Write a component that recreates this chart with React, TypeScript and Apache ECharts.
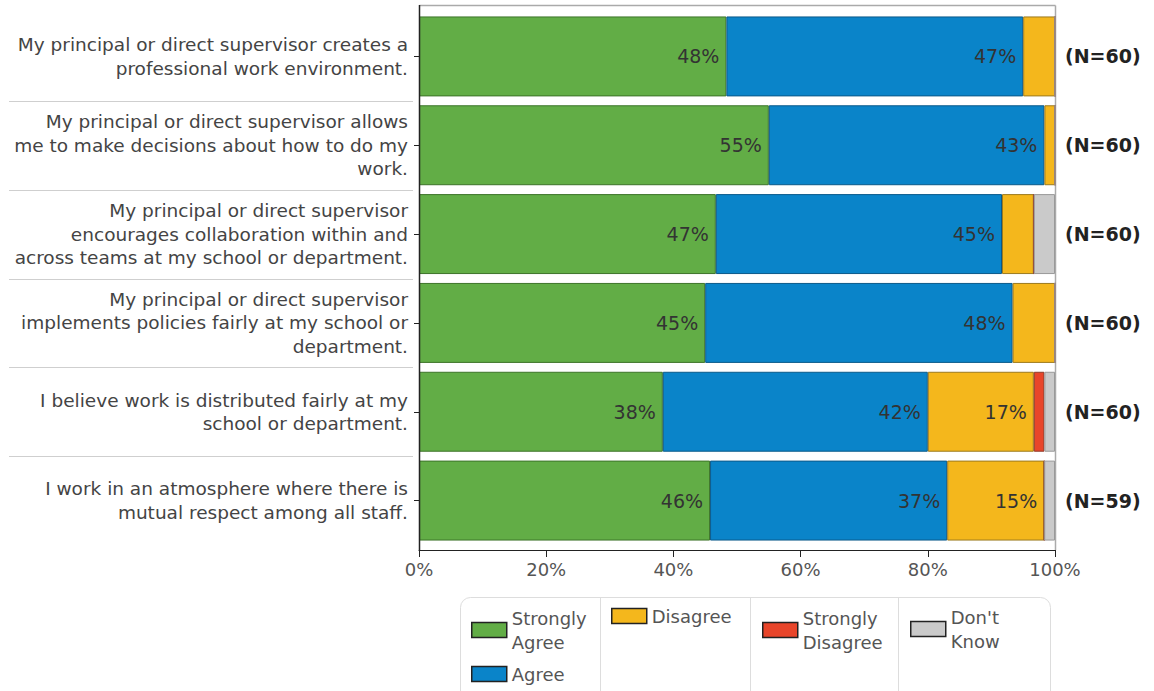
import React, { useEffect, useRef } from "react";
import * as echarts from "echarts";

const categories = [
  "My principal or direct supervisor creates a\nprofessional work environment.",
  "My principal or direct supervisor allows\nme to make decisions about how to do my\nwork.",
  "My principal or direct supervisor\nencourages collaboration within and\nacross teams at my school or department.",
  "My principal or direct supervisor\nimplements policies fairly at my school or\ndepartment.",
  "I believe work is distributed fairly at my\nschool or department.",
  "I work in an atmosphere where there is\nmutual respect among all staff.",
];
const respondents = [60, 60, 60, 60, 60, 59];
const strongAgree = [29, 33, 28, 27, 23, 27];
const agree = [28, 26, 27, 29, 25, 22];
const disagree = [3, 1, 3, 4, 10, 9];
const strongDisagree = [0, 0, 0, 0, 1, 0];
const dontKnow = [0, 0, 2, 0, 1, 1];
const xTicks = [0, 20, 40, 60, 80, 100];

const seriesDefs = [
  { name: "Strongly Agree", counts: strongAgree, color: "#62ad46", border: "#3d7429" },
  { name: "Agree", counts: agree, color: "#0a84c9", border: "#0b5a8a" },
  { name: "Disagree", counts: disagree, color: "#f4b71c", border: "#9c7a1e" },
  { name: "Strongly Disagree", counts: strongDisagree, color: "#e8452a", border: "#8f3a28" },
  { name: "Don't Know", counts: dontKnow, color: "#cacaca", border: "#999999" },
];

const FONT = "DejaVu Sans, Liberation Sans, Arial, sans-serif";

export default function App() {
  const ref = useRef<HTMLDivElement>(null);
  useEffect(() => {
    document.body.style.margin = "0";
    const chart = echarts.init(ref.current!, undefined, { renderer: "svg" });
    const legendText = { color: "#555", fontSize: 18, lineHeight: 24, fontFamily: FONT };
    const legendBase = {
      orient: "vertical",
      icon: "rect",
      itemWidth: 35,
      itemHeight: 15,
      itemGap: 8,
      padding: 0,
      textStyle: legendText,
      itemStyle: { borderColor: "#222", borderWidth: 1.5 },
      selectedMode: false,
    };
    const gridTop = 12;
    const gridHeight = 533;
    const option: any = {
      animation: false,
      textStyle: { fontFamily: FONT },
      grid: { left: 419, right: 99, top: gridTop, height: gridHeight },
      xAxis: {
        type: "value",
        min: xTicks[0],
        max: xTicks[xTicks.length - 1],
        interval: 20,
        offset: 5,
        axisLine: { show: true, lineStyle: { color: "#222", width: 1.2 } },
        axisTick: { show: true, length: 7, lineStyle: { color: "#222" } },
        splitLine: { show: false },
        axisLabel: { formatter: "{value}%", color: "#555", fontSize: 18, margin: 10 },
      },
      yAxis: [
        {
          type: "category",
          inverse: true,
          data: categories,
          axisLine: { show: false },
          axisTick: { show: true, alignWithLabel: true, length: 5, lineStyle: { color: "#222" } },
          axisLabel: { color: "#444", fontSize: 18.5, lineHeight: 23.5, margin: 11, align: "right" },
        },
        {
          type: "category",
          inverse: true,
          position: "right",
          data: respondents.map((n) => `(N=${n})`),
          axisLine: { show: false },
          axisTick: { show: false },
          axisLabel: { color: "#222", fontSize: 19, fontWeight: "bold", margin: 10 },
        },
      ],
      legend: [
        { ...legendBase, data: [{ name: "Strongly Agree" }], left: 471, top: 606, formatter: () => "Strongly\nAgree" },
        { ...legendBase, data: [{ name: "Agree" }], left: 471, top: 662 },
        { ...legendBase, data: [{ name: "Disagree" }], left: 611, top: 604 },
        { ...legendBase, data: [{ name: "Strongly Disagree" }], left: 762, top: 606, formatter: () => "Strongly\nDisagree" },
        { ...legendBase, data: [{ name: "Don't Know" }], left: 910, top: 605, formatter: () => "Don't\nKnow" },
      ],
      series: seriesDefs.map((s) => ({
        name: s.name,
        type: "bar",
        stack: "total",
        barCategoryGap: "10%",
        yAxisIndex: 0,
        itemStyle: { color: s.color, borderColor: s.border, borderWidth: 1 },
        label: {
          show: true,
          position: "insideRight",
          distance: 7,
          color: "#333",
          fontSize: 19,
          formatter: (p: any) => (p.value >= 10 ? `${Math.round(p.value)}%` : ""),
        },
        data: s.counts.map((c, i) => (c / respondents[i]) * 100),
      })),
    };
    chart.setOption(option);

    const xLeft = Math.round(chart.convertToPixel({ xAxisIndex: 0 }, xTicks[0]) as number) + 0.5;
    const xRight = Math.round(chart.convertToPixel({ xAxisIndex: 0 }, xTicks[xTicks.length - 1]) as number) + 0.5;
    const frameTop = gridTop - 7 + 0.5;
    const frameBottom = gridTop + gridHeight + 5;

    const centers = categories.map((_, i) => chart.convertToPixel({ yAxisIndex: 0 }, i) as number);
    const seps: any[] = [];
    for (let i = 0; i < centers.length - 1; i++) {
      const y = Math.round((centers[i] + centers[i + 1]) / 2) + 0.5;
      seps.push({
        type: "line",
        shape: { x1: 9, y1: y, x2: 413, y2: y },
        style: { stroke: "#cfcfcf", lineWidth: 1 },
        silent: true,
      });
    }
    const frame: any[] = [
      { type: "line", shape: { x1: xLeft, y1: frameTop, x2: xRight, y2: frameTop }, style: { stroke: "#aaaaaa", lineWidth: 1.5 }, silent: true },
      { type: "line", shape: { x1: xRight, y1: frameTop, x2: xRight, y2: frameBottom }, style: { stroke: "#aaaaaa", lineWidth: 1.5 }, silent: true },
      { type: "line", shape: { x1: xLeft, y1: frameTop - 0.5, x2: xLeft, y2: frameBottom }, style: { stroke: "#222", lineWidth: 1.5 }, silent: true, z: 10 },
    ];
    const legendBox: any[] = [
      {
        type: "rect",
        shape: { x: 460.5, y: 597.5, width: 590, height: 120, r: 10 },
        style: { fill: "none", stroke: "#dddddd", lineWidth: 1 },
        silent: true,
      },
      ...[600, 750, 898].map((x) => ({
        type: "line",
        shape: { x1: x + 0.5, y1: 598, x2: x + 0.5, y2: 691 },
        style: { stroke: "#dddddd", lineWidth: 1 },
        silent: true,
      })),
    ];
    chart.setOption({ graphic: [...seps, ...frame, ...legendBox] });
    return () => chart.dispose();
  }, []);
  return <div ref={ref} style={{ width: 1154, height: 691 }} />;
}
